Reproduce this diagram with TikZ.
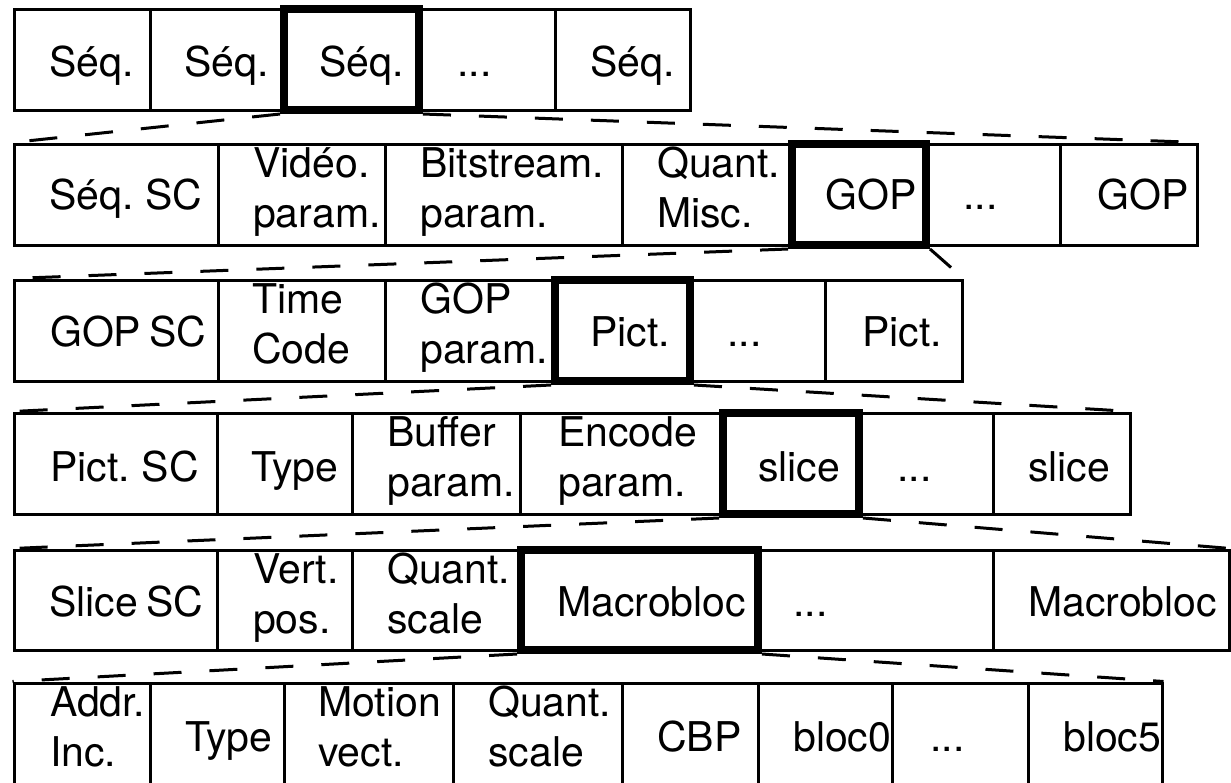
\documentclass[tikz,border=0pt]{standalone}
\usepackage{fontspec}
\setmainfont[WordSpace=0.7]{TeX Gyre Heros}
\tikzset{
  cell/.style={draw, rectangle, line width=3pt, inner sep=0pt},
  sel/.style={draw, rectangle, line width=8pt, inner sep=0pt},
  lbl/.style={anchor=base west, inner sep=0pt, font=\fontsize{41}{50}\selectfont},
  zoomline/.style={line width=3pt, dash pattern=on 28pt off 28pt},
}
% cell: name, left x, right x, top y, bottom y, style
\newcommand\cellbox[6]{%
  \pgfmathsetmacro\cw{#3-#2}\pgfmathsetmacro\ch{#5-#4}%
  \node[#6, minimum width=\cw pt, minimum height=\ch pt] (#1) at ({(#2+#3)/2},{(#4+#5)/2}) {};}
\newcommand\twoline[2]{\begin{tabular}[t]{@{}l@{}}#1\\#2\end{tabular}}
\begin{document}
\begin{tikzpicture}[x=1pt, y=-1pt]
\useasboundingbox (0,0) rectangle (1231,782);
\clip (0,0) rectangle (1231,782);

% ---- row 1: sequences
\cellbox{r1c1}{14}{150}{9}{110}{cell}
\cellbox{r1c2}{150}{284}{9}{110}{cell}
\cellbox{r1c4}{419}{555}{9}{110}{cell}
\cellbox{r1c5}{555}{690}{9}{110}{cell}
\cellbox{r1c3}{284}{419}{9}{110}{sel}
\node[lbl] (t1a) at (49,76) {Séq.};
\node[lbl] (t1b) at (184,76) {Séq.};
\node[lbl] (t1c) at (319,76) {Séq.};
\node[lbl] (t1d) at (457,76) {...};
\node[lbl] (t1e) at (590,76) {Séq.};

% ---- row 2: sequence content
\cellbox{r2c1}{14}{218}{144}{245}{cell}
\cellbox{r2c2}{218}{385}{144}{245}{cell}
\cellbox{r2c3}{385}{622}{144}{245}{cell}
\cellbox{r2c4}{622}{792}{144}{245}{cell}
\cellbox{r2c6}{926}{1060}{144}{245}{cell}
\cellbox{r2c7}{1060}{1197}{144}{245}{cell}
\cellbox{r2c5}{792}{926}{144}{245}{sel}
\node[lbl] (t2a) at (49,209) {Séq. SC};
\node[lbl] (t2b) at (253,177) {\twoline{Vidéo.}{param.}};
\node[lbl] (t2c) at (420,177) {\twoline{Bitstream.}{param.}};
\node[lbl] (t2d) at (657,177) {\twoline{Quant.}{Misc.}};
\node[lbl] (t2e) at (825,209) {GOP};
\node[lbl] (t2f) at (963,209) {...};
\node[lbl] (t2g) at (1097,209) {GOP};

% ---- row 3: GOP content
\cellbox{r3c1}{14}{218}{280}{381}{cell}
\cellbox{r3c2}{218}{385}{280}{381}{cell}
\cellbox{r3c3}{385}{555}{280}{381}{cell}
\cellbox{r3c5}{690}{825}{280}{381}{cell}
\cellbox{r3c6}{825}{962}{280}{381}{cell}
\cellbox{r3c4}{555}{690}{280}{381}{sel}
\node[lbl] (t3a) at (50,346) {GOP SC};
\node[lbl] (t3b) at (252,313) {\twoline{Time}{Code}};
\node[lbl] (t3c) at (420,313) {\twoline{GOP}{param.}};
\node[lbl] (t3d) at (590,346) {Pict.};
\node[lbl] (t3e) at (727,346) {...};
\node[lbl] (t3f) at (862,346) {Pict.};

% ---- row 4: picture content
\cellbox{r4c1}{14}{217}{413}{514}{cell}
\cellbox{r4c2}{217}{352}{413}{514}{cell}
\cellbox{r4c3}{352}{520}{413}{514}{cell}
\cellbox{r4c4}{520}{723}{413}{514}{cell}
\cellbox{r4c6}{859}{993}{413}{514}{cell}
\cellbox{r4c7}{993}{1130}{413}{514}{cell}
\cellbox{r4c5}{723}{859}{413}{514}{sel}
\node[lbl] (t4a) at (50,481) {Pict. SC};
\node[lbl] (t4b) at (251,481) {Type};
\node[lbl] (t4c) at (387,446) {\twoline{Buffer}{param.}};
\node[lbl] (t4d) at (558,446) {\twoline{Encode}{param.}};
\node[lbl] (t4e) at (758,481) {slice};
\node[lbl] (t4f) at (897,481) {...};
\node[lbl] (t4g) at (1028,481) {slice};

% ---- row 5: slice content
\cellbox{r5c1}{14}{217}{550}{650}{cell}
\cellbox{r5c2}{217}{352}{550}{650}{cell}
\cellbox{r5c3}{352}{521}{550}{650}{cell}
\cellbox{r5c5}{758}{993}{550}{650}{cell}
\cellbox{r5c6}{993}{1229}{550}{650}{cell}
\cellbox{r5c4}{521}{758}{550}{650}{sel}
\node[lbl] (t5a) at (49,616) {Slice SC};
\node[lbl] (t5b) at (253,583) {\twoline{Vert.}{pos.}};
\node[lbl] (t5c) at (387,583) {\twoline{Quant.}{scale}};
\node[lbl] (t5d) at (557,616) {Macrobloc};
\node[lbl] (t5e) at (793,616) {...};
\node[lbl] (t5f) at (1028,616) {Macrobloc};

% ---- row 6: macroblock content
\cellbox{r6c1}{14}{150}{683}{800}{cell}
\cellbox{r6c2}{150}{284}{683}{800}{cell}
\cellbox{r6c3}{284}{453}{683}{800}{cell}
\cellbox{r6c4}{453}{622}{683}{800}{cell}
\cellbox{r6c5}{622}{758}{683}{800}{cell}
\cellbox{r6c6}{758}{892}{683}{800}{cell}
\cellbox{r6c7}{892}{1028}{683}{800}{cell}
\cellbox{r6c8}{1028}{1162}{683}{800}{cell}
\node[lbl] (t6a) at (50,716) {\twoline{Addr.}{Inc.}};
\node[lbl] (t6b) at (185,751) {Type};
\node[lbl] (t6c) at (318,716) {\twoline{Motion}{vect.}};
\node[lbl] (t6d) at (488,716) {\twoline{Quant.}{scale}};
\node[lbl] (t6e) at (657,751) {CBP};
\node[lbl] (t6f) at (793,751) {bloc0};
\node[lbl] (t6g) at (930,751) {...};
\node[lbl] (t6h) at (1063,751) {bloc5};

% ---- zoom lines from each selected field to the row detailing it
\draw[zoomline] (r1c3.south west) -- (r2c1.north west);
\draw[zoomline] (r1c3.south east) -- (r2c7.north east);
\draw[zoomline] (r2c5.south west) -- (r3c1.north west);
\draw[zoomline] (r2c5.south east) -- (r3c6.north east);
\draw[zoomline] (r3c4.south west) -- (r4c1.north west);
\draw[zoomline] (r3c4.south east) -- (r4c7.north east);
\draw[zoomline] (r4c5.south west) -- (r5c1.north west);
\draw[zoomline] (r4c5.south east) -- (r5c6.north east);
\draw[zoomline] (r5c4.south west) -- (r6c1.north west);
\draw[zoomline] (r5c4.south east) -- (r6c8.north east);
\end{tikzpicture}
\end{document}
